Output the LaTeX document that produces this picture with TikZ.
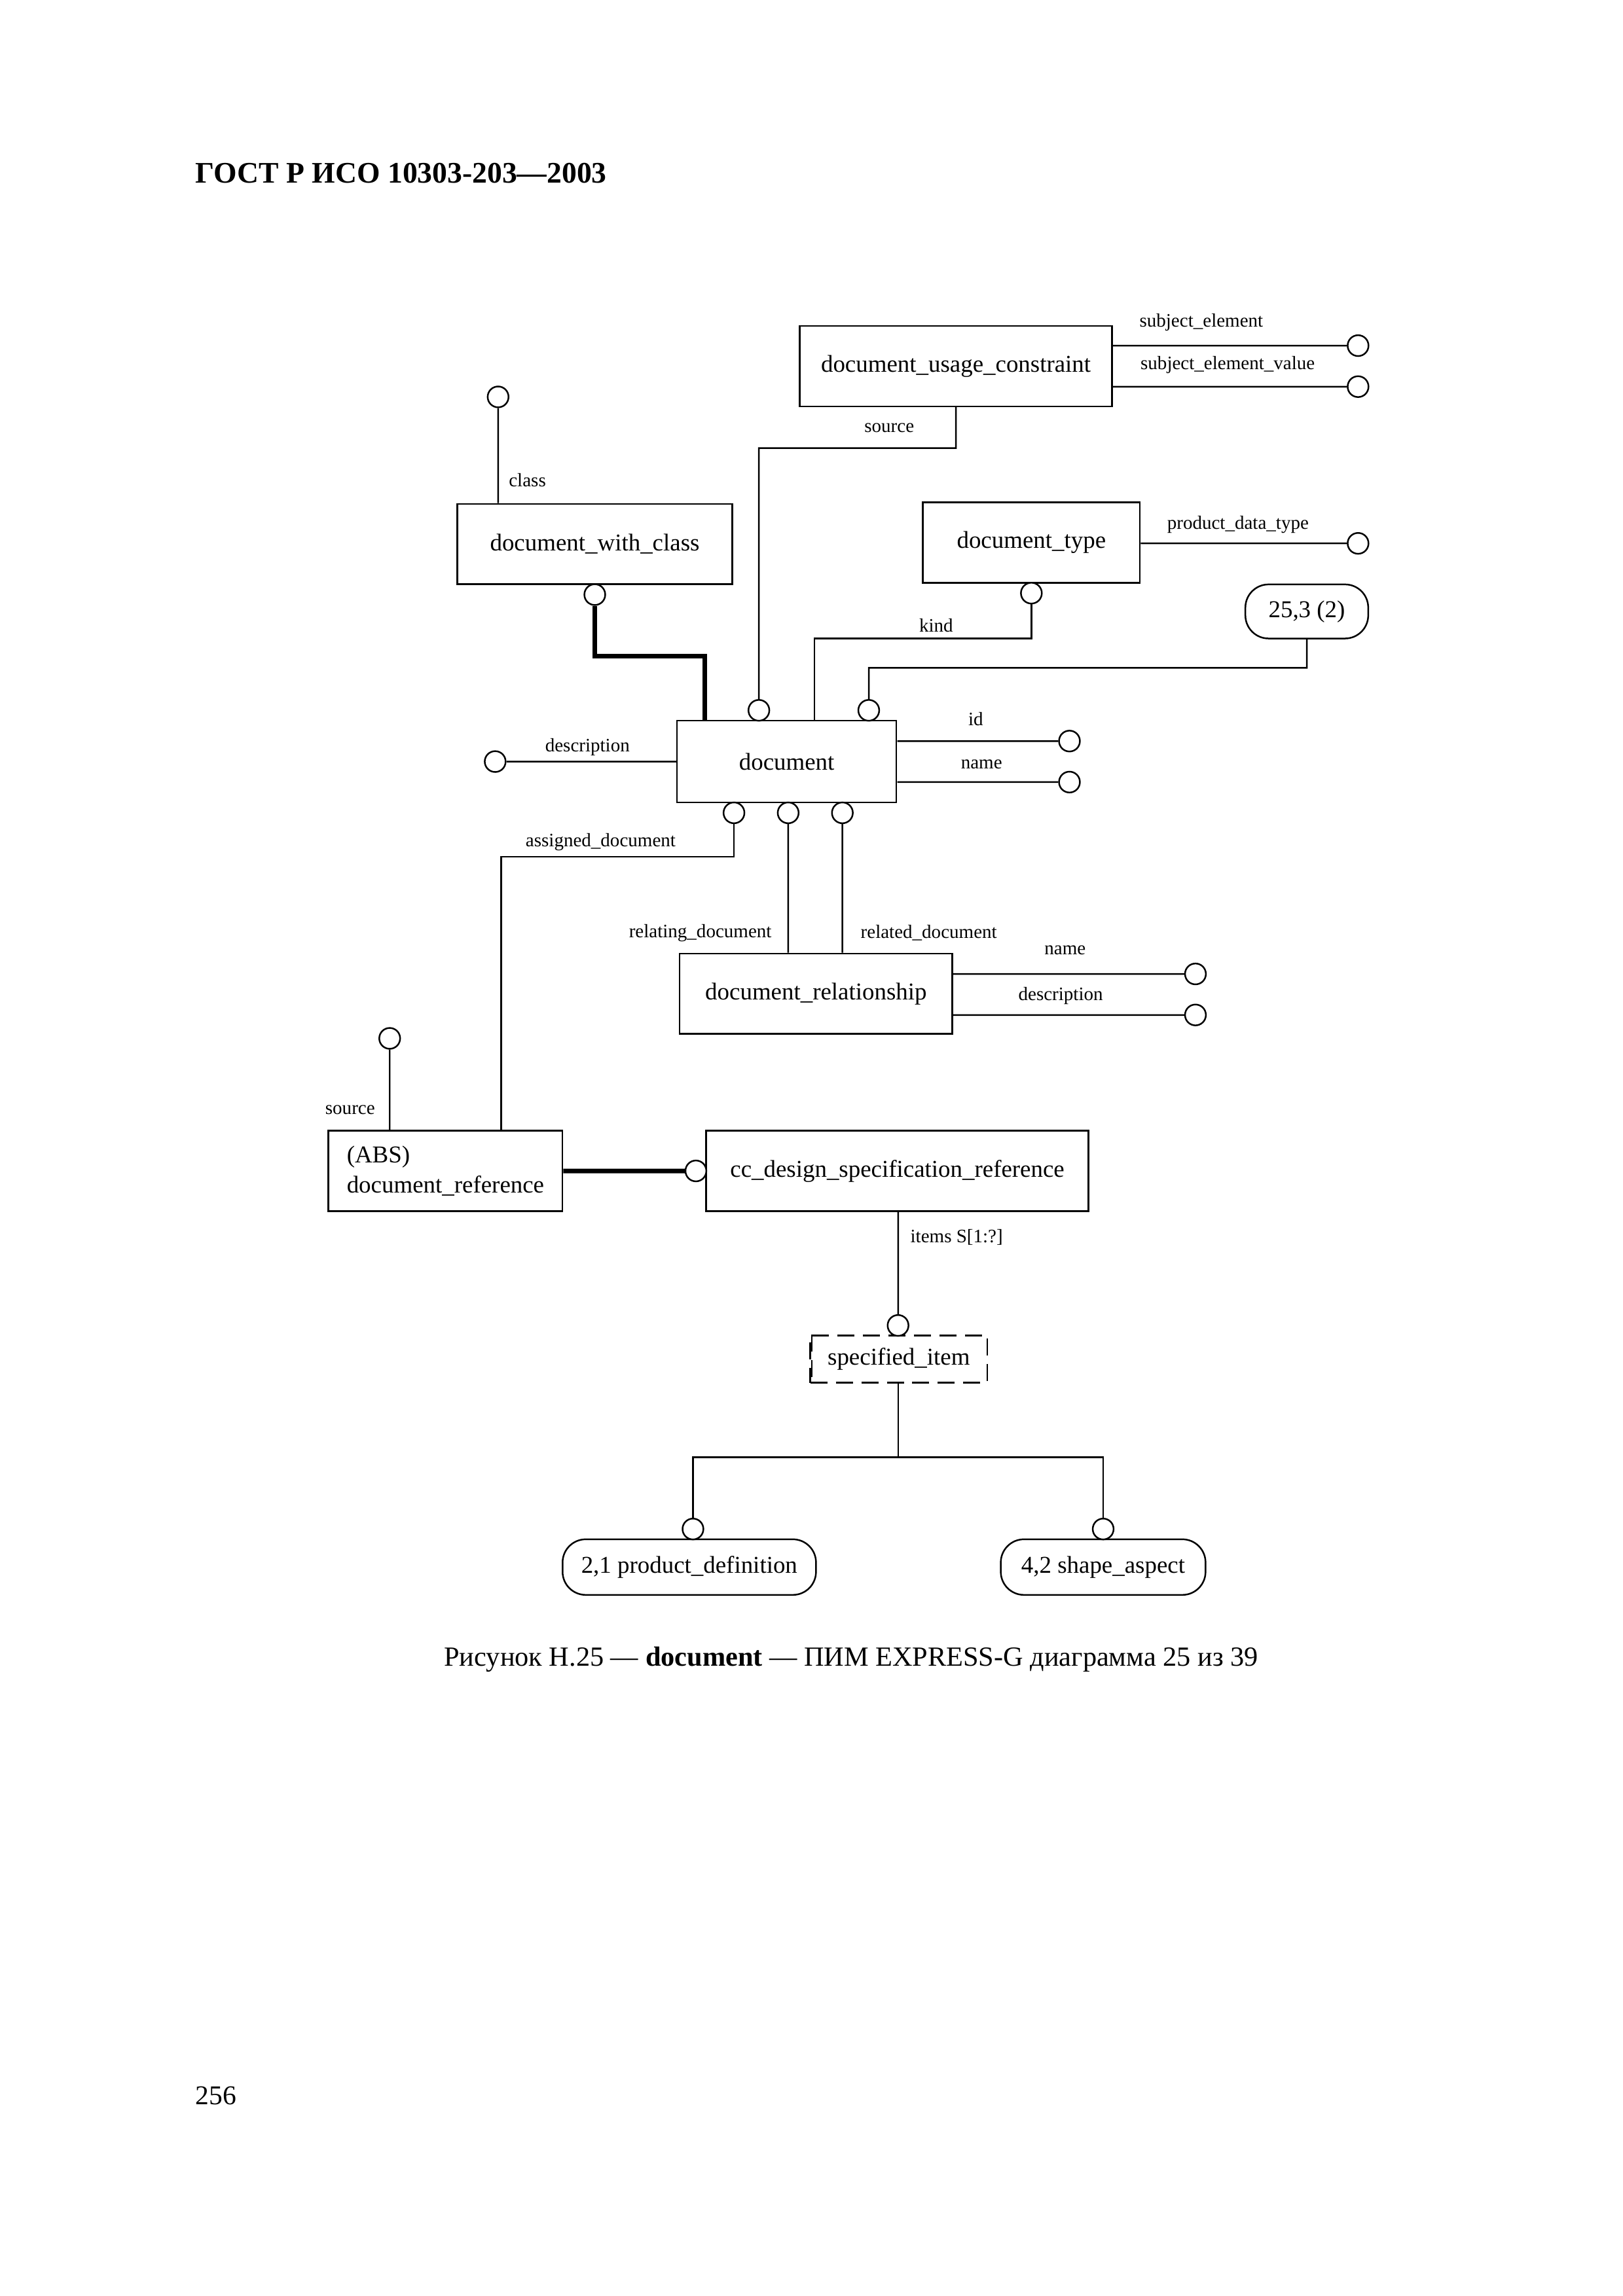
\documentclass[tikz,border=0pt]{standalone}
\usepackage{fontspec}
\setmainfont{Liberation Serif}

\begin{document}
\begin{tikzpicture}[scale=0.1896, line width=0.6pt,
    every node/.append style={inner sep=0pt},
    ent/.style={draw, rectangle, minimum height=1.04cm, font=\fontsize{8.9}{11}\selectfont},
    pageref/.style={draw, rectangle, rounded corners=0.3cm, minimum height=0.72cm, font=\fontsize{8.9}{11}\selectfont},
    att/.style={draw, circle, minimum size=0.27cm, fill=white},
    lbl/.style={font=\fontsize{7}{8.5}\selectfont},
    isa/.style={line width=1.7pt}]
    \useasboundingbox (0,0) rectangle (110.76,-156.77);
    % page header, caption, page number
    \node [anchor=base west, font=\bfseries\fontsize{11}{13}\selectfont] (head) at (13.3,-12.5) {ГОСТ Р ИСО 10303-203—2003};
    \node [anchor=base, font=\fontsize{10.2}{12}\selectfont] (caption) at (58.1,-113.75) {Рисунок Н.25 — \textbf{document} — ПИМ EXPRESS-G диаграмма 25 из 39};
    \node [anchor=base west, font=\fontsize{10}{12}\selectfont] (pagenum) at (13.3,-143.7) {256};
    % entities
    \node [ent, minimum width=4.04cm] (duc) at (65.25,-25) {document\_usage\_constraint};
    \node [ent, minimum width=3.56cm] (dwc) at (40.6,-37.15) {document\_with\_class};
    \node [ent, minimum width=2.81cm] (dtype) at (70.4,-37.05) {document\_type};
    \node [pageref, minimum width=1.59cm, minimum height=0.7cm] (r253) at (89.2,-41.75) {25,3 (2)};
    \node [ent, minimum width=2.84cm, minimum height=1.06cm] (doc) at (53.7,-52) {document};
    \node [ent, minimum width=3.53cm] (drel) at (55.7,-67.85) {document\_relationship};
    \node [ent, minimum width=3.03cm, align=left, text width=2.55cm] (dref) at (30.4,-79.95) {(ABS)\\document\_reference};
    \node [ent, minimum width=4.95cm] (ccdsr) at (61.25,-79.95) {cc\_design\_specification\_reference};
    \node [ent, dashed, dash pattern=on 2.2mm off 1.1mm, minimum width=2.29cm, minimum height=0.61cm] (spec) at (61.35,-92.8) {specified\_item};
    \draw [dash pattern=on 2.2mm off 1.1mm] ([xshift=0.15cm]spec.north west) -- ([xshift=0.15cm]spec.south west);
    \node [pageref, minimum width=3.28cm, minimum height=0.72cm] (pd) at (47.05,-107) {2,1 product\_definition};
    \node [pageref, minimum width=2.65cm, minimum height=0.72cm] (sa) at (75.3,-107) {4,2 shape\_aspect};
    % attribute circles
    \node [att] (cse) at (92.7,-23.6) {};
    \node [att] (csev) at (92.7,-26.4) {};
    \node [att] (cclass) at (34,-27.1) {};
    \node [att] (cdwc) at (40.6,-40.6) {};
    \node [att] (cpdt) at (92.7,-37.1) {};
    \node [att] (cdt) at (70.4,-40.5) {};
    \node [att] (csrc) at (51.8,-48.5) {};
    \node [att] (c253) at (59.3,-48.5) {};
    \node [att] (cid) at (73,-50.6) {};
    \node [att] (cname) at (73,-53.4) {};
    \node [att] (cdesc) at (33.8,-52) {};
    \node [att] (cb1) at (50.1,-55.5) {};
    \node [att] (cb2) at (53.8,-55.5) {};
    \node [att] (cb3) at (57.5,-55.5) {};
    \node [att] (crn) at (81.6,-66.5) {};
    \node [att] (crd) at (81.6,-69.3) {};
    \node [att] (cdrs) at (26.6,-70.9) {};
    \node [att] (ccc) at (47.5,-79.95) {};
    \node [att] (citems) at (61.3,-90.5) {};
    \node [att] (cpd) at (47.3,-104.4) {};
    \node [att] (csa) at (75.3,-104.4) {};
    % bends
    \coordinate (k0) at (51.8,-30.6);
    \coordinate (k1) at (48.1,-44.8);
    \coordinate (k3) at (55.6,-43.6);
    \coordinate (k4) at (89.2,-45.6);
    \coordinate (k2) at (34.2,-58.5);
    \coordinate (k5) at (61.3,-99.5);
    % connectors
    \draw (cse -| duc.east) -- (cse);
    \draw (csev -| duc.east) -- (csev);
    \draw (duc.south) |- (k0) -- (csrc);
    \draw (cclass) -- (cclass |- dwc.north);
    \draw [isa] (cdwc) |- (k1) -- (k1 |- doc.north);
    \draw (cpdt -| dtype.east) -- (cpdt);
    \draw (cdt) |- (k3) -- (k3 |- doc.north);
    \draw (r253) -- (k4) -| (c253);
    \draw (cid -| doc.east) -- (cid);
    \draw (cname -| doc.east) -- (cname);
    \draw (cdesc -| doc.west) -- (cdesc);
    \draw (cb1) |- (k2) -- (k2 |- dref.north);
    \draw (cb2) -- (cb2 |- drel.north);
    \draw (cb3) -- (cb3 |- drel.north);
    \draw (crn -| drel.east) -- (crn);
    \draw (crd -| drel.east) -- (crd);
    \draw (cdrs) -- (cdrs |- dref.north);
    \draw [isa] (dref.east |- ccc) -- (ccc);
    \draw (citems |- ccdsr.south) -- (citems);
    \draw (spec.south -| k5) -- (k5);
    \draw (k5) -| (cpd);
    \draw (k5) -| (csa);
    % attribute labels
    \node [lbl] (lse) at (82,-22) {subject\_element};
    \node [lbl] (lsev) at (83.8,-24.9) {subject\_element\_value};
    \node [lbl] (lsrc) at (60.7,-29.2) {source};
    \node [lbl] (lclass) at (36,-32.8) {class};
    \node [lbl] (lpdt) at (84.5,-35.8) {product\_data\_type};
    \node [lbl] (lkind) at (63.9,-42.7) {kind};
    \node [lbl] (lid) at (66.6,-49.1) {id};
    \node [lbl] (lname) at (67,-52.2) {name};
    \node [lbl] (ldesc) at (40.1,-51) {description};
    \node [lbl] (lassd) at (41,-57.5) {assigned\_document};
    \node [lbl] (lreld) at (47.8,-63.7) {relating\_document};
    \node [lbl] (lrd) at (63.4,-63.7) {related\_document};
    \node [lbl] (lrname) at (72.7,-64.9) {name};
    \node [lbl] (lrdesc) at (72.4,-68) {description};
    \node [lbl] (ldrsrc) at (23.9,-75.8) {source};
    \node [lbl] (litems) at (65.3,-84.5) {items S[1:?]};
\end{tikzpicture}
\end{document}
